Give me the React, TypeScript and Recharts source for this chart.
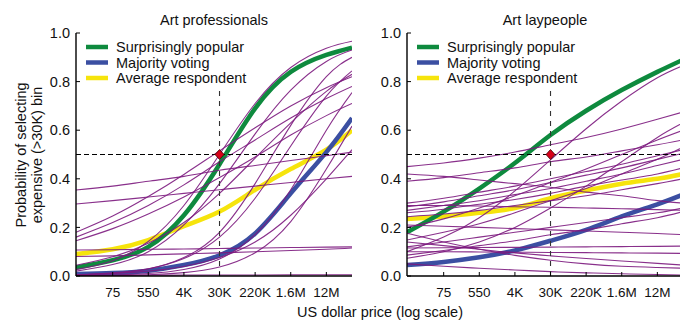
import React from "react";
import { LineChart, Line, XAxis, YAxis, ReferenceLine, ReferenceDot } from "recharts";

// x positions (natural log of US dollar price) at which curves were read
const XS = [2.25, 4.31, 6.31, 8.31, 10.31, 12.31, 14.31, 16.31, 17.75];
const X_DOMAIN = [2.25, 17.75];
const TICK_X = [4.31, 6.31, 8.31, 10.31, 12.31, 14.31, 16.31];
const TICK_LABELS = ["75", "550", "4K", "30K", "220K", "1.6M", "12M"];
const Y_TICKS = [0, 0.2, 0.4, 0.6, 0.8, 1.0];
const Y_LABELS = ["0.0", "0.2", "0.4", "0.6", "0.8", "1.0"];
const THRESHOLD_X = 10.31; // 30K
const GUIDE_TOP = 0.775;

// Art professionals
const PRO_SP = [0.035, 0.065, 0.12, 0.25, 0.46, 0.69, 0.84, 0.91, 0.94];
const PRO_MV = [0.008, 0.012, 0.022, 0.045, 0.085, 0.175, 0.34, 0.51, 0.65];
const PRO_AVG = [0.09, 0.11, 0.148, 0.205, 0.265, 0.355, 0.44, 0.52, 0.6];
const PRO_INDIV = [
  [0.354, 0.37, 0.39, 0.41, 0.435, 0.455, 0.475, 0.495, 0.51],
  [0.296, 0.31, 0.325, 0.34, 0.355, 0.37, 0.385, 0.4, 0.41],
  [0.107, 0.108, 0.11, 0.111, 0.113, 0.115, 0.117, 0.119, 0.12],
  [0.08, 0.083, 0.087, 0.091, 0.095, 0.1, 0.105, 0.11, 0.115],
  [0.003, 0.003, 0.003, 0.004, 0.004, 0.004, 0.005, 0.005, 0.005],
  [0.18, 0.247, 0.327, 0.418, 0.515, 0.61, 0.7, 0.775, 0.82],
  [0.16, 0.22, 0.29, 0.375, 0.47, 0.56, 0.65, 0.73, 0.78],
  [0.145, 0.195, 0.255, 0.325, 0.405, 0.49, 0.58, 0.66, 0.71],
  [0.026, 0.063, 0.142, 0.29, 0.5, 0.71, 0.858, 0.937, 0.966],
  [0.02, 0.047, 0.1, 0.21, 0.38, 0.585, 0.765, 0.883, 0.93],
  [0.004, 0.011, 0.029, 0.076, 0.18, 0.38, 0.62, 0.82, 0.9],
  [0.005, 0.013, 0.03, 0.072, 0.16, 0.32, 0.535, 0.74, 0.844],
  [0.001, 0.004, 0.01, 0.027, 0.07, 0.17, 0.355, 0.6, 0.755],
  [0.001, 0.002, 0.005, 0.014, 0.037, 0.096, 0.224, 0.44, 0.617],
  [0.005, 0.01, 0.02, 0.039, 0.076, 0.14, 0.25, 0.4, 0.52],
  [0.044, 0.079, 0.135, 0.22, 0.34, 0.485, 0.63, 0.76, 0.83],
];

// Art laypeople
const LAY_SP = [0.18, 0.265, 0.36, 0.465, 0.58, 0.68, 0.765, 0.84, 0.89];
const LAY_MV = [0.045, 0.058, 0.077, 0.105, 0.145, 0.19, 0.245, 0.295, 0.335];
const LAY_AVG = [0.235, 0.245, 0.26, 0.28, 0.32, 0.352, 0.38, 0.4, 0.42];
const LAY_INDIV = [
  [0.45, 0.465, 0.485, 0.51, 0.54, 0.57, 0.605, 0.645, 0.675],
  [0.1, 0.16, 0.24, 0.35, 0.478, 0.606, 0.72, 0.816, 0.866],
  [0.42, 0.41, 0.395, 0.38, 0.365, 0.345, 0.33, 0.31, 0.3],
  [0.39, 0.405, 0.425, 0.445, 0.47, 0.49, 0.515, 0.54, 0.56],
  [0.073, 0.1, 0.14, 0.2, 0.28, 0.37, 0.47, 0.57, 0.63],
  [0.3, 0.32, 0.345, 0.37, 0.4, 0.43, 0.46, 0.495, 0.52],
  [0.285, 0.305, 0.33, 0.355, 0.385, 0.415, 0.445, 0.48, 0.505],
  [0.27, 0.29, 0.31, 0.335, 0.36, 0.39, 0.42, 0.455, 0.48],
  [0.26, 0.275, 0.295, 0.315, 0.34, 0.37, 0.395, 0.42, 0.445],
  [0.244, 0.255, 0.27, 0.29, 0.31, 0.33, 0.355, 0.38, 0.4],
  [0.2, 0.235, 0.28, 0.33, 0.385, 0.44, 0.5, 0.56, 0.6],
  [0.148, 0.18, 0.215, 0.26, 0.31, 0.36, 0.42, 0.48, 0.53],
  [0.12, 0.14, 0.16, 0.18, 0.2, 0.22, 0.24, 0.26, 0.28],
  [0.086, 0.105, 0.125, 0.145, 0.17, 0.19, 0.215, 0.24, 0.265],
  [0.176, 0.14, 0.11, 0.085, 0.065, 0.05, 0.04, 0.035, 0.032],
  [0.14, 0.125, 0.11, 0.095, 0.083, 0.072, 0.062, 0.052, 0.045],
  [0.05, 0.04, 0.032, 0.025, 0.018, 0.013, 0.009, 0.006, 0.004],
  [0.115, 0.116, 0.117, 0.118, 0.119, 0.12, 0.121, 0.122, 0.123],
  [0.1, 0.1, 0.099, 0.098, 0.097, 0.096, 0.095, 0.094, 0.093],
  [0.21, 0.205, 0.2, 0.195, 0.19, 0.185, 0.18, 0.175, 0.17],
  [0.29, 0.29, 0.288, 0.285, 0.283, 0.28, 0.277, 0.273, 0.27],
];

const SERIES_NAMES = ["Surprisingly popular", "Majority voting", "Average respondent"];
const GREEN = "#0e8a3e";
const BLUE = "#3b4fa2";
const YELLOW = "#f6e40c";
const PURPLE = "#7c1a7e";
const COLORS = [GREEN, BLUE, YELLOW];
const FONT = "'Liberation Sans', Arial, Helvetica, sans-serif";

function buildData(sp: number[], mv: number[], avg: number[], indiv: number[][]) {
  return XS.map((x, i) => {
    const row: any = { x, sp: sp[i], mv: mv[i], avg: avg[i] };
    indiv.forEach((arr, j) => {
      row["p" + j] = arr[i];
    });
    return row;
  });
}

const BottomTick = (props: any) => {
  const { x, y, payload } = props;
  const idx = TICK_X.indexOf(payload.value);
  return (
    <g>
      <line x1={x} x2={x} y1={y} y2={y - 4} stroke="#000" strokeWidth={1} />
      <text x={x} y={y + 20.5} textAnchor="middle" fontSize={13.5} fontFamily={FONT} fill="#111">
        {TICK_LABELS[idx]}
      </text>
    </g>
  );
};
const TopTick = (props: any) => {
  const { x, y } = props;
  return <line x1={x} x2={x} y1={y} y2={y + 4} stroke="#000" strokeWidth={1} />;
};
const LeftTick = (props: any) => {
  const { x, y, payload } = props;
  const idx = Y_TICKS.indexOf(payload.value);
  return (
    <g>
      <line x1={x} x2={x + 4} y1={y} y2={y} stroke="#000" strokeWidth={1} />
      <text x={x - 6} y={y} dy="0.36em" textAnchor="end" fontSize={14.5} fontFamily={FONT} fill="#111">
        {Y_LABELS[idx]}
      </text>
    </g>
  );
};
const RightTick = (props: any) => {
  const { x, y } = props;
  return <line x1={x} x2={x - 4} y1={y} y2={y} stroke="#000" strokeWidth={1} />;
};

const Diamond = (props: any) => {
  const { cx, cy } = props;
  return (
    <polygon
      points={`${cx},${cy - 5} ${cx + 4.5},${cy} ${cx},${cy + 5} ${cx - 4.5},${cy}`}
      fill="#d8001a"
      stroke="#3a0000"
      strokeWidth={0.8}
    />
  );
};

function Panel(props: {
  left: number;
  width: number;
  yAxisWidth: number;
  sp: number[];
  mv: number[];
  avg: number[];
  indiv: number[][];
}) {
  const { left, width, yAxisWidth, sp, mv, avg, indiv } = props;
  const data = buildData(sp, mv, avg, indiv);
  const axisLine = { stroke: "#000", strokeWidth: 1.4 };
  return (
    <div style={{ position: "absolute", left, top: 0 }}>
      <LineChart width={width} height={320} data={data} margin={{ top: 33, right: 8, bottom: 0, left: 0 }}>
        <XAxis
          xAxisId="b"
          dataKey="x"
          type="number"
          domain={X_DOMAIN}
          ticks={TICK_X}
          interval={0}
          allowDataOverflow
          height={44}
          tickSize={0}
          tickMargin={0}
          tickLine={false}
          axisLine={axisLine}
          tick={<BottomTick />}
        />
        <XAxis
          xAxisId="t"
          orientation="top"
          dataKey="x"
          type="number"
          domain={X_DOMAIN}
          ticks={TICK_X}
          interval={0}
          allowDataOverflow
          height={0}
          tickSize={0}
          tickMargin={0}
          tickLine={false}
          axisLine={axisLine}
          tick={<TopTick />}
        />
        <YAxis
          yAxisId="l"
          type="number"
          domain={[0, 1]}
          ticks={Y_TICKS}
          interval={0}
          allowDataOverflow
          width={yAxisWidth}
          tickSize={0}
          tickMargin={0}
          tickLine={false}
          axisLine={axisLine}
          tick={<LeftTick />}
        />
        <YAxis
          yAxisId="r"
          orientation="right"
          type="number"
          domain={[0, 1]}
          ticks={Y_TICKS}
          interval={0}
          allowDataOverflow
          width={0}
          tickSize={0}
          tickMargin={0}
          tickLine={false}
          axisLine={axisLine}
          tick={<RightTick />}
        />
        <Line xAxisId="b" yAxisId="l" dataKey="avg" type="natural" stroke={YELLOW} strokeWidth={4.5} dot={false} isAnimationActive={false} />
        <Line xAxisId="b" yAxisId="l" dataKey="mv" type="natural" stroke={BLUE} strokeWidth={4.5} dot={false} isAnimationActive={false} />
        <Line xAxisId="b" yAxisId="l" dataKey="sp" type="natural" stroke={GREEN} strokeWidth={4.5} dot={false} isAnimationActive={false} />
        {indiv.map((_, j) => (
          <Line
            key={j}
            xAxisId="b"
            yAxisId="l"
            dataKey={"p" + j}
            type="natural"
            stroke={PURPLE}
            strokeWidth={1.1}
            strokeOpacity={0.9}
            dot={false}
            isAnimationActive={false}
          />
        ))}
        <ReferenceLine xAxisId="b" yAxisId="l" y={0.5} stroke="#000" strokeWidth={1.1} strokeDasharray="5 3" />
        <ReferenceLine
          xAxisId="b"
          yAxisId="l"
          segment={[
            { x: THRESHOLD_X, y: 0 },
            { x: THRESHOLD_X, y: GUIDE_TOP },
          ]}
          stroke="#333"
          strokeWidth={1.1}
          strokeDasharray="5 5"
        />
        <ReferenceDot xAxisId="b" yAxisId="l" x={THRESHOLD_X} y={0.5} r={5} shape={<Diamond />} />
      </LineChart>
    </div>
  );
}

function LegendBox({ x }: { x: number }) {
  const rows = [47, 62.5, 78];
  return (
    <g>
      {SERIES_NAMES.map((name, i) => (
        <g key={name}>
          <line x1={x} x2={x + 22} y1={rows[i]} y2={rows[i]} stroke={COLORS[i]} strokeWidth={4.5} />
          <text x={x + 30} y={rows[i] + 5} fontSize={14.5} fontFamily={FONT} fill="#111">
            {name}
          </text>
        </g>
      ))}
    </g>
  );
}

export default function App() {
  return (
    <div style={{ position: "absolute", left: 0, top: 0, width: 680, height: 320, overflow: "hidden", background: "#fff" }}>
      <Panel left={0} width={360} yAxisWidth={76} sp={PRO_SP} mv={PRO_MV} avg={PRO_AVG} indiv={PRO_INDIV} />
      <Panel left={340} width={351} yAxisWidth={67} sp={LAY_SP} mv={LAY_MV} avg={LAY_AVG} indiv={LAY_INDIV} />
      <svg width={680} height={320} style={{ position: "absolute", left: 0, top: 0, pointerEvents: "none" }}>
        <text x={214} y={25} textAnchor="middle" fontSize={14.5} fontFamily={FONT} fill="#111">
          Art professionals
        </text>
        <text x={545} y={25} textAnchor="middle" fontSize={14.5} fontFamily={FONT} fill="#111">
          Art laypeople
        </text>
        <LegendBox x={86} />
        <LegendBox x={417} />
        <text transform="translate(21,155) rotate(-90)" textAnchor="middle" dy="0.36em" fontSize={14.5} fontFamily={FONT} fill="#111">
          Probability of selecting
        </text>
        <text transform="translate(37,155) rotate(-90)" textAnchor="middle" dy="0.36em" fontSize={14.5} fontFamily={FONT} fill="#111">
          expensive (&gt;30K) bin
        </text>
        <text x={380} y={317} textAnchor="middle" fontSize={14.5} fontFamily={FONT} fill="#111">
          US dollar price (log scale)
        </text>
      </svg>
    </div>
  );
}
